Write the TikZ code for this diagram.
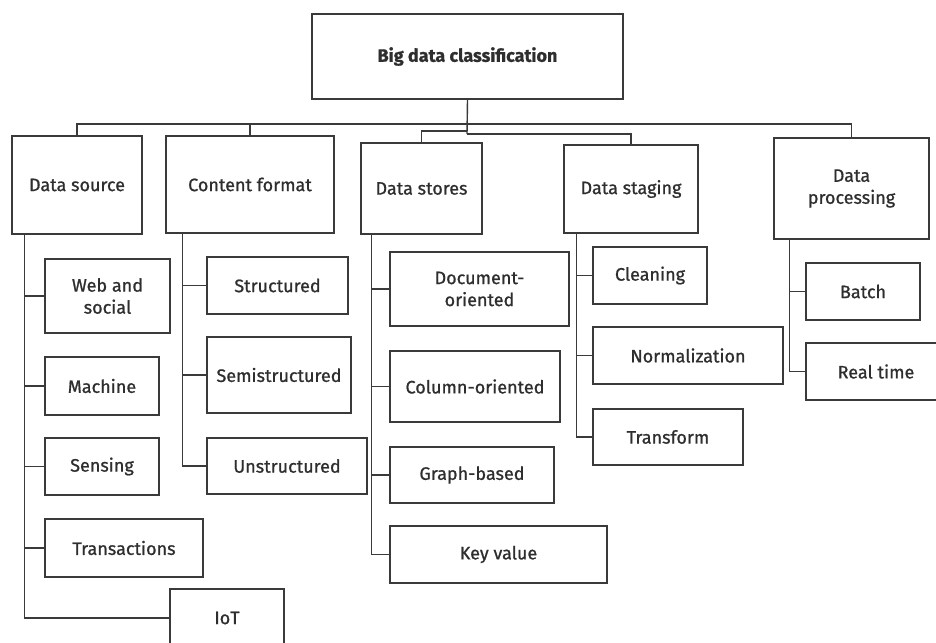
\documentclass[tikz,border=0pt]{standalone}
\usepackage{fontspec}
\setmainfont{Fira Sans}[FakeBold=0.9]
\definecolor{ink}{HTML}{2E2E2E}
\definecolor{rule}{HTML}{3A3A3A}
\begin{document}
\begin{tikzpicture}[x=1pt,y=-1pt,
  box/.style={draw=rule, line width=1.4pt, rectangle, inner sep=0pt, align=center,
    text=ink, font=\fontsize{18}{22}\selectfont},
  link/.style={draw=rule, line width=1.4pt}]
\useasboundingbox (0,0) rectangle (936,642);
\clip (0,0) rectangle (936,642);

% root
\node[box, minimum width=311, minimum height=85, font=\fontsize{18}{22}\selectfont\bfseries]
  (root) at (467.5,56.5) {Big data classification};

% first level
\node[box, minimum width=130, minimum height=98]  (ds)  at (77,185)    {Data source};
\node[box, minimum width=168, minimum height=97]  (cf)  at (250,184.5) {Content format};
\node[box, minimum width=121, minimum height=91]  (dst) at (421.5,188.5) {Data stores};
\node[box, minimum width=134, minimum height=88]  (stg) at (631,189)   {Data staging};
\node[box, minimum width=155, minimum height=101] (pr)  at (851.5,188.5) {Data\\processing};

% data source
\node[box, minimum width=125, minimum height=74] (web)   at (107.5,296) {Web and\\social};
\node[box, minimum width=114, minimum height=58] (mach)  at (102,386)   {Machine};
\node[box, minimum width=114, minimum height=57] (sens)  at (102,466.5) {Sensing};
\node[box, minimum width=158, minimum height=58] (trans) at (124,548)   {Transactions};
\node[box, minimum width=114, minimum height=58] (iot)   at (227,618)   {IoT};

% content format
\node[box, minimum width=141, minimum height=57] (struc) at (277.5,285.5) {Structured};
\node[box, minimum width=144, minimum height=76] (semi)  at (279,375)    {Semistructured};
\node[box, minimum width=160, minimum height=56] (unst)  at (287,466)    {Unstructured};

% data stores
\node[box, minimum width=179, minimum height=74] (doc)   at (479.5,289)  {Document-\\oriented};
\node[box, minimum width=170, minimum height=71] (col)   at (475,386.5)  {Column-oriented};
\node[box, minimum width=164, minimum height=56] (graph) at (472,475)    {Graph-based};
\node[box, minimum width=217, minimum height=57] (key)   at (498.5,554.5) {Key value};

% data staging
\node[box, minimum width=114, minimum height=57] (clean) at (650,275.5) {Cleaning};
\node[box, minimum width=190, minimum height=57] (norm)  at (688,355.5) {Normalization};
\node[box, minimum width=150, minimum height=56] (tform) at (668,437)   {Transform};

% data processing
\node[box, minimum width=114, minimum height=57] (batch) at (863,291.5) {Batch};
\node[box, minimum width=140, minimum height=57] (real)  at (876,371.5) {Real time};

% bus lines below the root
\coordinate (busA) at (467,124);
\coordinate (busB) at (467,131);
\coordinate (busC) at (467,134);
\draw[link] (root.south) -- (busC);
\draw[link] (ds.north) |- (busA) -| (pr.north);
\draw[link] (cf.north) -- (cf.north |- busA);
\draw[link] (busB) -| (dst.north);
\draw[link] (busC) -| (stg.north);

% spines to second level
\foreach \c in {web,mach,sens,trans,iot}
  \draw[link] ([xshift=13pt]ds.south west) |- (\c.west);
\foreach \c in {struc,semi,unst}
  \draw[link] ([xshift=17pt]cf.south west) |- (\c.west);
\foreach \c in {doc,col,graph,key}
  \draw[link] ([xshift=11pt]dst.south west) |- (\c.west);
\foreach \c in {clean,norm,tform}
  \draw[link] ([xshift=13pt]stg.south west) |- (\c.west);
\foreach \c in {batch,real}
  \draw[link] ([xshift=16pt]pr.south west) |- (\c.west);
\end{tikzpicture}
\end{document}
